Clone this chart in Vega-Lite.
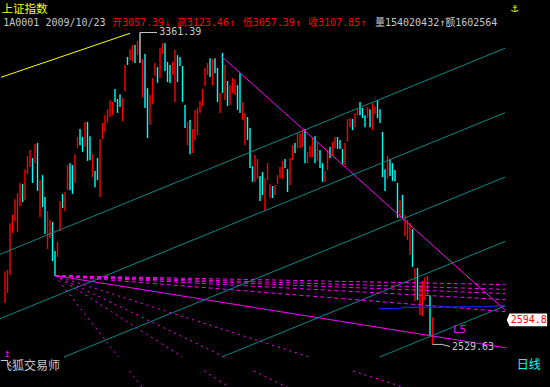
{
  "$schema": "https://vega.github.io/schema/vega-lite/v6.json",
  "width": 505,
  "height": 387,
  "autosize": {"type": "none"},
  "padding": {"left": 0, "top": 0, "right": 45, "bottom": 0},
  "background": "#000000",
  "config": {"view": {"stroke": null}, "axis": {"grid": false}},
  "resolve": {"scale": {"color": "independent"}},
  "datasets": {
    "bars": [
      {"k":1,"h":2725,"l":2640,"d":"up"},{"k":2,"h":2728,"l":2667,"d":"up"},{"k":3,"h":2853,"l":2715,"d":"up"},{"k":4,"h":2875,"l":2827,"d":"up"},
      {"k":5,"h":2917,"l":2859,"d":"up"},{"k":6,"h":2933,"l":2829,"d":"up"},{"k":7,"h":2960,"l":2899,"d":"up"},{"k":8,"h":2957,"l":2909,"d":"down"},
      {"k":9,"h":2997,"l":2915,"d":"up"},{"k":10,"h":3032,"l":2984,"d":"up"},{"k":11,"h":3048,"l":3003,"d":"up"},{"k":12,"h":3027,"l":2960,"d":"down"},
      {"k":13,"h":3064,"l":3013,"d":"up"},{"k":14,"h":3067,"l":2939,"d":"down"},{"k":15,"h":2968,"l":2869,"d":"up"},{"k":16,"h":2981,"l":2896,"d":"down"},
      {"k":17,"h":2923,"l":2824,"d":"down"},{"k":18,"h":2885,"l":2784,"d":"up"},{"k":19,"h":2861,"l":2813,"d":"up"},{"k":20,"h":2856,"l":2752,"d":"down"},
      {"k":21,"h":2779,"l":2712,"d":"down"},{"k":22,"h":2803,"l":2763,"d":"up"},{"k":23,"h":2912,"l":2832,"d":"up"},{"k":24,"h":2931,"l":2893,"d":"down"},
      {"k":25,"h":2936,"l":2885,"d":"up"},{"k":26,"h":3008,"l":2941,"d":"up"},{"k":27,"h":3013,"l":2941,"d":"down"},{"k":28,"h":3008,"l":2931,"d":"down"},
      {"k":29,"h":3037,"l":2960,"d":"up"},{"k":30,"h":3083,"l":3053,"d":"up"},{"k":31,"h":3104,"l":3061,"d":"down"},{"k":32,"h":3083,"l":3043,"d":"down"},
      {"k":33,"h":3123,"l":3056,"d":"up"},{"k":34,"h":3123,"l":3019,"d":"down"},{"k":35,"h":3085,"l":3021,"d":"down"},{"k":36,"h":3037,"l":2976,"d":"up"},
      {"k":37,"h":2992,"l":2949,"d":"down"},{"k":38,"h":3027,"l":2968,"d":"down"},{"k":39,"h":3077,"l":2923,"d":"up"},{"k":40,"h":3120,"l":3077,"d":"up"},
      {"k":41,"h":3141,"l":3096,"d":"up"},{"k":42,"h":3157,"l":3120,"d":"up"},{"k":43,"h":3181,"l":3136,"d":"up"},{"k":44,"h":3176,"l":3141,"d":"up"},
      {"k":45,"h":3211,"l":3176,"d":"down"},{"k":46,"h":3184,"l":3147,"d":"down"},{"k":47,"h":3197,"l":3163,"d":"down"},{"k":48,"h":3187,"l":3125,"d":"up"},
      {"k":49,"h":3275,"l":3205,"d":"up"},{"k":50,"h":3296,"l":3275,"d":"down"},{"k":51,"h":3317,"l":3288,"d":"up"},{"k":52,"h":3328,"l":3283,"d":"up"},
      {"k":53,"h":3328,"l":3280,"d":"down"},{"k":54,"h":3339,"l":3301,"d":"up"},{"k":55,"h":3361.39,"l":3280,"d":"flat"},{"k":56,"h":3291,"l":3187,"d":"up"},
      {"k":57,"h":3304,"l":3160,"d":"down"},{"k":58,"h":3213,"l":3080,"d":"down"},{"k":59,"h":3195,"l":3115,"d":"up"},{"k":60,"h":3240,"l":3171,"d":"up"},
      {"k":61,"h":3280,"l":3245,"d":"up"},{"k":62,"h":3269,"l":3227,"d":"down"},{"k":63,"h":3320,"l":3240,"d":"up"},{"k":64,"h":3333,"l":3304,"d":"up"},
      {"k":65,"h":3333,"l":3259,"d":"down"},{"k":66,"h":3283,"l":3229,"d":"down"},{"k":67,"h":3275,"l":3227,"d":"down"},{"k":68,"h":3283,"l":3248,"d":"up"},
      {"k":69,"h":3315,"l":3176,"d":"up"},{"k":70,"h":3301,"l":3229,"d":"down"},{"k":71,"h":3296,"l":3272,"d":"down"},{"k":72,"h":3272,"l":3176,"d":"down"},
      {"k":73,"h":3168,"l":3107,"d":"down"},{"k":74,"h":3123,"l":3061,"d":"up"},{"k":75,"h":3128,"l":3037,"d":"down"},{"k":76,"h":3104,"l":3040,"d":"up"},
      {"k":77,"h":3155,"l":3075,"d":"up"},{"k":78,"h":3160,"l":3088,"d":"up"},{"k":79,"h":3179,"l":3147,"d":"up"},{"k":80,"h":3211,"l":3165,"d":"up"},
      {"k":81,"h":3267,"l":3219,"d":"up"},{"k":82,"h":3280,"l":3248,"d":"up"},{"k":83,"h":3293,"l":3243,"d":"down"},{"k":84,"h":3291,"l":3221,"d":"up"},
      {"k":85,"h":3293,"l":3253,"d":"down"},{"k":86,"h":3267,"l":3176,"d":"down"},{"k":87,"h":3200,"l":3147,"d":"up"},{"k":88,"h":3307,"l":3200,"d":"down"},
      {"k":89,"h":3275,"l":3181,"d":"up"},{"k":90,"h":3232,"l":3165,"d":"down"},{"k":91,"h":3221,"l":3168,"d":"up"},{"k":92,"h":3240,"l":3200,"d":"up"},
      {"k":93,"h":3237,"l":3195,"d":"up"},{"k":94,"h":3221,"l":3155,"d":"down"},{"k":95,"h":3253,"l":3147,"d":"down"},{"k":96,"h":3176,"l":3128,"d":"up"},
      {"k":97,"h":3147,"l":3061,"d":"up"},{"k":98,"h":3136,"l":3075,"d":"down"},{"k":99,"h":3107,"l":3000,"d":"down"},{"k":100,"h":3005,"l":2963,"d":"down"},
      {"k":101,"h":3035,"l":2963,"d":"up"},{"k":102,"h":3024,"l":2971,"d":"up"},{"k":103,"h":2979,"l":2912,"d":"down"},{"k":104,"h":2989,"l":2928,"d":"down"},
      {"k":105,"h":2973,"l":2885,"d":"up"},{"k":106,"h":3013,"l":2968,"d":"up"},{"k":107,"h":2957,"l":2920,"d":"up"},{"k":108,"h":2952,"l":2920,"d":"down"},
      {"k":109,"h":2955,"l":2928,"d":"up"},{"k":110,"h":2981,"l":2957,"d":"up"},{"k":111,"h":3003,"l":2973,"d":"up"},{"k":112,"h":3019,"l":2971,"d":"up"},
      {"k":113,"h":3024,"l":3000,"d":"down"},{"k":114,"h":2997,"l":2936,"d":"down"},{"k":115,"h":3027,"l":2955,"d":"up"},{"k":116,"h":3061,"l":3021,"d":"up"},
      {"k":117,"h":3067,"l":3040,"d":"down"},{"k":118,"h":3093,"l":3053,"d":"up"},{"k":119,"h":3093,"l":3053,"d":"up"},{"k":120,"h":3101,"l":3056,"d":"up"},
      {"k":121,"h":3104,"l":3013,"d":"down"},{"k":122,"h":3043,"l":3013,"d":"up"},{"k":123,"h":3059,"l":3029,"d":"up"},{"k":124,"h":3080,"l":3029,"d":"up"},
      {"k":125,"h":3085,"l":3013,"d":"down"},{"k":126,"h":3067,"l":3019,"d":"up"},{"k":127,"h":3048,"l":3000,"d":"down"},{"k":128,"h":3013,"l":2963,"d":"down"},
      {"k":129,"h":2992,"l":2963,"d":"up"},{"k":130,"h":3048,"l":2995,"d":"up"},{"k":131,"h":3056,"l":3027,"d":"down"},{"k":132,"h":3069,"l":3032,"d":"up"},
      {"k":133,"h":3083,"l":3053,"d":"up"},{"k":134,"h":3083,"l":3051,"d":"down"},{"k":135,"h":3075,"l":3051,"d":"down"},{"k":136,"h":3051,"l":3011,"d":"down"},
      {"k":137,"h":3067,"l":3008,"d":"up"},{"k":138,"h":3131,"l":3069,"d":"up"},{"k":139,"h":3133,"l":3109,"d":"up"},{"k":140,"h":3131,"l":3101,"d":"down"},
      {"k":141,"h":3147,"l":3109,"d":"up"},{"k":142,"h":3160,"l":3141,"d":"up"},{"k":143,"h":3176,"l":3141,"d":"down"},{"k":144,"h":3160,"l":3133,"d":"down"},
      {"k":145,"h":3141,"l":3109,"d":"down"},{"k":146,"h":3163,"l":3133,"d":"up"},{"k":147,"h":3157,"l":3109,"d":"down"},{"k":148,"h":3173,"l":3101,"d":"up"},
      {"k":149,"h":3165,"l":3144,"d":"up"},{"k":150,"h":3181,"l":3133,"d":"down"},{"k":151,"h":3157,"l":3120,"d":"down"},{"k":152,"h":3096,"l":2976,"d":"down"},
      {"k":153,"h":2997,"l":2939,"d":"down"},{"k":154,"h":3032,"l":2971,"d":"up"},{"k":155,"h":3024,"l":2979,"d":"down"},{"k":156,"h":3013,"l":2965,"d":"down"},
      {"k":157,"h":2995,"l":2965,"d":"down"},{"k":158,"h":2960,"l":2867,"d":"down"},{"k":159,"h":2915,"l":2867,"d":"up"},{"k":160,"h":2928,"l":2867,"d":"down"},
      {"k":161,"h":2875,"l":2819,"d":"up"},{"k":162,"h":2861,"l":2808,"d":"up"},{"k":163,"h":2853,"l":2768,"d":"up"},{"k":164,"h":2837,"l":2736,"d":"down"},
      {"k":165,"h":2733,"l":2645,"d":"up"},{"k":166,"h":2733,"l":2648,"d":"down"},{"k":167,"h":2688,"l":2608,"d":"up"},{"k":168,"h":2699,"l":2605,"d":"up"},
      {"k":169,"h":2709,"l":2648,"d":"up"},{"k":170,"h":2712,"l":2659,"d":"up"},{"k":171,"h":2661,"l":2555,"d":"down"},{"k":172,"h":2603,"l":2529.63,"d":"up"}
    ],
    "lines": [
      {"g":"ch","id":"A","k":-1,"v":2769.9},{"g":"ch","id":"A","k":201,"v":3319.3},
      {"g":"ch","id":"B","k":-1,"v":2598.1},{"g":"ch","id":"B","k":201,"v":3147.5},
      {"g":"ch","id":"C","k":24.6,"v":2496},{"g":"ch","id":"C","k":201,"v":2975.8},
      {"g":"ch","id":"D","k":87.7,"v":2496},{"g":"ch","id":"D","k":201,"v":2804.1},
      {"g":"ch","id":"E","k":150.9,"v":2496},{"g":"ch","id":"E","k":201,"v":2632.4},
      {"g":"yl","id":"Y","k":-0.6,"v":3241.9},{"g":"yl","id":"Y","k":51,"v":3359.2},
      {"g":"tr","id":"T","k":87.4,"v":3299},{"g":"tr","id":"T","k":201,"v":2621},
      {"g":"tr","id":"L5","k":21,"v":2713},{"g":"tr","id":"L5","k":201,"v":2521},
      {"g":"ff","id":"f8","k":21,"v":2713},{"g":"ff","id":"f8","k":201,"v":2689},
      {"g":"ff","id":"f5","k":21,"v":2713},{"g":"ff","id":"f5","k":201,"v":2676.5},
      {"g":"ff","id":"f4","k":21,"v":2713},{"g":"ff","id":"f4","k":201,"v":2665},
      {"g":"ff","id":"f3","k":21,"v":2713},{"g":"ff","id":"f3","k":201,"v":2649},
      {"g":"ff","id":"f2","k":21,"v":2713},{"g":"ff","id":"f2","k":201,"v":2617},
      {"g":"fs","id":"s2a","k":21,"v":2713},{"g":"fs","id":"s2a","k":122.7,"v":2496},
      {"g":"fs","id":"s2b","k":140.2,"v":2458.7},{"g":"fs","id":"s2b","k":160.2,"v":2416},
      {"g":"fs","id":"s3a","k":21,"v":2713},{"g":"fs","id":"s3a","k":88.8,"v":2496},
      {"g":"fs","id":"s3b","k":100.5,"v":2458.7},{"g":"fs","id":"s3b","k":113.8,"v":2416},
      {"g":"fs","id":"s4a","k":21,"v":2713},{"g":"fs","id":"s4a","k":71.9,"v":2496},
      {"g":"fs","id":"s4b","k":80.6,"v":2458.7},{"g":"fs","id":"s4b","k":90.6,"v":2416},
      {"g":"fs","id":"s8a","k":21,"v":2713},{"g":"fs","id":"s8a","k":46.4,"v":2496},
      {"g":"fs","id":"s8b","k":50.8,"v":2458.7},{"g":"fs","id":"s8b","k":55.8,"v":2416},
      {"g":"bl","id":"B1","k":150.7,"v":2625},{"g":"bl","id":"B1","k":159.7,"v":2626},{"g":"bl","id":"B1","k":160.3,"v":2628.5},
      {"g":"bl","id":"B1","k":176,"v":2629},{"g":"bl","id":"B1","k":193,"v":2630.5},{"g":"bl","id":"B1","k":201,"v":2634},
      {"g":"ld","id":"hi","k":55,"v":3361.4},{"g":"ld","id":"hi","k":61.8,"v":3361.4},
      {"g":"ld","id":"lo","k":172,"v":2529.6},{"g":"ld","id":"lo","k":175.7,"v":2529.6},{"g":"ld","id":"lo","k":179,"v":2524}
    ],
    "notes": [
      {"t":"上证指数","k":-0.4,"v":3412.5,"role":"title"},
      {"t":"1A0001 2009/10/23","k":0.3,"v":3388,"role":"info"},
      {"t":"开3057.39↓","k":43.8,"v":3388,"role":"quote"},
      {"t":"高3123.46↑","k":69.7,"v":3388,"role":"quote"},
      {"t":"低3057.39↑","k":96.1,"v":3388,"role":"quote"},
      {"t":"收3107.85↑","k":122.2,"v":3388,"role":"quote"},
      {"t":"量154020432↑额1602564","k":149,"v":3388,"role":"info"},
      {"t":"3361.39","k":62.7,"v":3361.4,"role":"tag"},
      {"t":"2529.63","k":179.8,"v":2523,"role":"tag"},
      {"t":"飞狐交易师","k":-1,"v":2473,"role":"brand"},
      {"t":"日线","k":205.7,"v":2476,"role":"period"},
      {"t":"L5","k":180.2,"v":2569,"role":"l5"},
      {"t":"2594.8","k":203.3,"v":2594.8,"role":"last"},
      {"t":"⚓","k":203.4,"v":3428,"role":"anchor"},
      {"t":"↥","k":0.6,"v":2505,"role":"mark"}
    ]
  },
  "layer": [
    {
      "data": {"name": "bars"},
      "mark": {"type": "rule", "strokeWidth": 1.4},
      "encoding": {
        "x": {"field": "k", "type": "quantitative", "scale": {"domain": [-1, 201], "nice": false, "zero": false},
          "axis": {"orient": "bottom", "offset": -20, "values": [23.2, 39.2, 60.8, 83.3, 103.2, 118.6, 141.2, 162.5, 182.5],
            "labelExpr": "['10','11','12','2010','02','03','04','05','06'][indexof([23.2,39.2,60.8,83.3,103.2,118.6,141.2,162.5,182.5], datum.value)]",
            "domain": false, "ticks": false, "tickSize": 0, "grid": false, "title": null, "zindex": 1,
            "labelColor": "#00ffff", "labelFont": "DejaVu Sans Mono", "labelFontSize": 10, "labelAlign": "left", "labelBaseline": "alphabetic",
            "labelPadding": 1.5, "labelFlush": false, "labelOverlap": false, "labelBound": false}},
        "y": {"field": "h", "type": "quantitative", "scale": {"domain": [2416, 3448], "nice": false, "zero": false},
          "axis": {"orient": "right", "values": [2600, 2800, 3000, 3200], "format": ".1f",
            "domain": false, "ticks": false, "tickSize": 0, "grid": false, "title": null, "zindex": 0,
            "labelColor": "#00ffff", "labelFont": "DejaVu Sans Mono", "labelFontSize": 10, "labelAlign": "left", "labelBaseline": "middle",
            "labelPadding": 5.5, "labelFlush": false, "labelOverlap": false, "labelBound": false}},
        "y2": {"field": "l"},
        "color": {"field": "d", "type": "nominal", "scale": {"domain": ["up", "down", "flat"], "range": ["#ff0000", "#00ffff", "#c8c8c8"]}, "legend": null}
      }
    },
    {
      "data": {"name": "lines"},
      "transform": [{"filter": "datum.g == 'ch'"}],
      "mark": {"type": "line", "color": "#0a8888", "strokeWidth": 1},
      "encoding": {
        "x": {"field": "k", "type": "quantitative", "scale": {"domain": [-1, 201], "nice": false, "zero": false}, "axis": null},
        "y": {"field": "v", "type": "quantitative", "scale": {"domain": [2416, 3448], "nice": false, "zero": false}, "axis": null},
        "detail": {"field": "id"}
      }
    },
    {
      "data": {"name": "lines"},
      "transform": [{"filter": "datum.g == 'yl'"}],
      "mark": {"type": "line", "color": "#ffff00", "strokeWidth": 1},
      "encoding": {
        "x": {"field": "k", "type": "quantitative", "scale": {"domain": [-1, 201], "nice": false, "zero": false}, "axis": null},
        "y": {"field": "v", "type": "quantitative", "scale": {"domain": [2416, 3448], "nice": false, "zero": false}, "axis": null},
        "detail": {"field": "id"}
      }
    },
    {
      "data": {"name": "lines"},
      "transform": [{"filter": "datum.g == 'ff'"}],
      "mark": {"type": "line", "color": "#ff00ff", "strokeWidth": 1, "strokeDash": [4, 3]},
      "encoding": {
        "x": {"field": "k", "type": "quantitative", "scale": {"domain": [-1, 201], "nice": false, "zero": false}, "axis": null},
        "y": {"field": "v", "type": "quantitative", "scale": {"domain": [2416, 3448], "nice": false, "zero": false}, "axis": null},
        "detail": {"field": "id"}
      }
    },
    {
      "data": {"name": "lines"},
      "transform": [{"filter": "datum.g == 'fs'"}],
      "mark": {"type": "line", "color": "#ff00ff", "strokeWidth": 1, "strokeDash": [2, 4]},
      "encoding": {
        "x": {"field": "k", "type": "quantitative", "scale": {"domain": [-1, 201], "nice": false, "zero": false}, "axis": null},
        "y": {"field": "v", "type": "quantitative", "scale": {"domain": [2416, 3448], "nice": false, "zero": false}, "axis": null},
        "detail": {"field": "id"}
      }
    },
    {
      "data": {"name": "lines"},
      "transform": [{"filter": "datum.g == 'tr'"}],
      "mark": {"type": "line", "color": "#ff00ff", "strokeWidth": 1},
      "encoding": {
        "x": {"field": "k", "type": "quantitative", "scale": {"domain": [-1, 201], "nice": false, "zero": false}, "axis": null},
        "y": {"field": "v", "type": "quantitative", "scale": {"domain": [2416, 3448], "nice": false, "zero": false}, "axis": null},
        "detail": {"field": "id"}
      }
    },
    {
      "data": {"name": "lines"},
      "transform": [{"filter": "datum.g == 'bl'"}],
      "mark": {"type": "line", "color": "#0a28ff", "strokeWidth": 1.2},
      "encoding": {
        "x": {"field": "k", "type": "quantitative", "scale": {"domain": [-1, 201], "nice": false, "zero": false}, "axis": null},
        "y": {"field": "v", "type": "quantitative", "scale": {"domain": [2416, 3448], "nice": false, "zero": false}, "axis": null},
        "detail": {"field": "id"}
      }
    },
    {
      "data": {"name": "lines"},
      "transform": [{"filter": "datum.g == 'ld'"}],
      "mark": {"type": "line", "color": "#c8c8c8", "strokeWidth": 1},
      "encoding": {
        "x": {"field": "k", "type": "quantitative", "scale": {"domain": [-1, 201], "nice": false, "zero": false}, "axis": null},
        "y": {"field": "v", "type": "quantitative", "scale": {"domain": [2416, 3448], "nice": false, "zero": false}, "axis": null},
        "detail": {"field": "id"}
      }
    },
    {
      "data": {"name": "notes"},
      "transform": [{"filter": "datum.role == 'last'"}],
      "mark": {"type": "point", "shape": "M-0.2,0L-0.06,-0.32L1.82,-0.32L1.82,0.32L-0.06,0.32Z", "size": 1600, "filled": true, "color": "#ffffff", "opacity": 1, "strokeWidth": 0},
      "encoding": {
        "x": {"field": "k", "type": "quantitative", "scale": {"domain": [-1, 201], "nice": false, "zero": false}, "axis": null},
        "y": {"field": "v", "type": "quantitative", "scale": {"domain": [2416, 3448], "nice": false, "zero": false}, "axis": null}
      }
    },
    {
      "data": {"name": "notes"},
      "transform": [{"filter": "datum.role == 'title'"}],
      "mark": {"type": "text", "align": "left", "baseline": "alphabetic", "font": "Noto Sans CJK SC", "fontSize": 11.5},
      "encoding": {
        "x": {"field": "k", "type": "quantitative", "scale": {"domain": [-1, 201], "nice": false, "zero": false}, "axis": null},
        "y": {"field": "v", "type": "quantitative", "scale": {"domain": [2416, 3448], "nice": false, "zero": false}, "axis": null},
        "text": {"field": "t"},
        "color": {"field": "role", "type": "nominal", "legend": null,
          "scale": {"domain": ["title","info","quote","tag","brand","period","l5","last","anchor","mark"], "range": ["#ffff00","#c8c8c8","#ff0000","#c8c8c8","#c8c8c8","#00ffff","#ff00ff","#ff0000","#ffff00","#ff00ff"]}}
      }
    },
    {
      "data": {"name": "notes"},
      "transform": [{"filter": "datum.role == 'brand' || datum.role == 'period' || datum.role == 'anchor'"}],
      "mark": {"type": "text", "align": "left", "baseline": "middle", "font": "'DejaVu Sans Mono', 'Noto Sans CJK SC'", "fontSize": 12},
      "encoding": {
        "x": {"field": "k", "type": "quantitative", "scale": {"domain": [-1, 201], "nice": false, "zero": false}, "axis": null},
        "y": {"field": "v", "type": "quantitative", "scale": {"domain": [2416, 3448], "nice": false, "zero": false}, "axis": null},
        "text": {"field": "t"},
        "color": {"field": "role", "type": "nominal", "legend": null,
          "scale": {"domain": ["title","info","quote","tag","brand","period","l5","last","anchor","mark"], "range": ["#ffff00","#c8c8c8","#ff0000","#c8c8c8","#c8c8c8","#00ffff","#ff00ff","#ff0000","#ffff00","#ff00ff"]}}
      }
    },
    {
      "data": {"name": "notes"},
      "transform": [{"filter": "datum.role == 'info' || datum.role == 'quote' || datum.role == 'tag' || datum.role == 'last'"}],
      "mark": {"type": "text", "align": "left", "baseline": "middle", "font": "'DejaVu Sans Mono', 'Noto Sans CJK SC'", "fontSize": 10},
      "encoding": {
        "x": {"field": "k", "type": "quantitative", "scale": {"domain": [-1, 201], "nice": false, "zero": false}, "axis": null},
        "y": {"field": "v", "type": "quantitative", "scale": {"domain": [2416, 3448], "nice": false, "zero": false}, "axis": null},
        "text": {"field": "t"},
        "color": {"field": "role", "type": "nominal", "legend": null,
          "scale": {"domain": ["title","info","quote","tag","brand","period","l5","last","anchor","mark"], "range": ["#ffff00","#c8c8c8","#ff0000","#c8c8c8","#c8c8c8","#00ffff","#ff00ff","#ff0000","#ffff00","#ff00ff"]}}
      }
    },
    {
      "data": {"name": "notes"},
      "transform": [{"filter": "datum.role == 'l5' || datum.role == 'mark'"}],
      "mark": {"type": "text", "align": "left", "baseline": "middle", "font": "'DejaVu Sans Mono', 'DejaVu Sans'", "fontSize": 11},
      "encoding": {
        "x": {"field": "k", "type": "quantitative", "scale": {"domain": [-1, 201], "nice": false, "zero": false}, "axis": null},
        "y": {"field": "v", "type": "quantitative", "scale": {"domain": [2416, 3448], "nice": false, "zero": false}, "axis": null},
        "text": {"field": "t"},
        "color": {"field": "role", "type": "nominal", "legend": null,
          "scale": {"domain": ["title","info","quote","tag","brand","period","l5","last","anchor","mark"], "range": ["#ffff00","#c8c8c8","#ff0000","#c8c8c8","#c8c8c8","#00ffff","#ff00ff","#ff0000","#ffff00","#ff00ff"]}}
      }
    }
  ]
}
